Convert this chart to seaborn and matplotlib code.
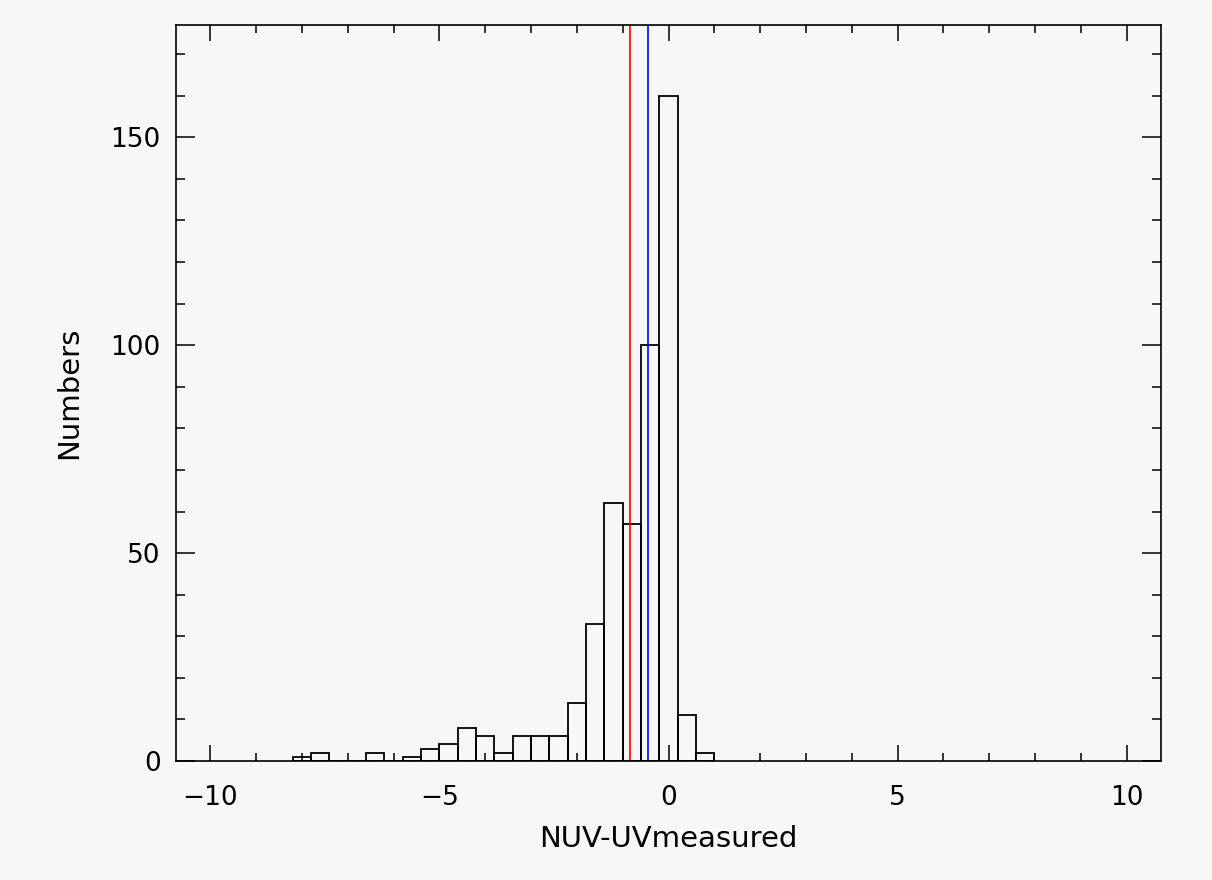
import numpy as np
import pandas as pd
import seaborn as sns
import matplotlib
matplotlib.use("Agg")
import matplotlib.pyplot as plt
from matplotlib.ticker import MultipleLocator

# Histogram data (bin edges every 0.4 from -8.2 to 1.0)
bin_edges = [-8.2, -7.8, -7.4, -7.0, -6.6, -6.2, -5.8, -5.4, -5.0, -4.6, -4.2,
             -3.8, -3.4, -3.0, -2.6, -2.2, -1.8, -1.4, -1.0, -0.6, -0.2, 0.2, 0.6, 1.0]
counts = [1, 2, 0, 0, 2, 0, 1, 3, 4, 8, 6,
          2, 6, 6, 6, 14, 33, 62, 57, 100, 160, 11, 2]
red_line = -0.84
blue_line = -0.44

centers = [(bin_edges[i] + bin_edges[i + 1]) / 2 for i in range(len(counts))]
df = pd.DataFrame({"x": centers, "n": counts})

sns.set_style("ticks")
plt.rcParams["font.family"] = ["DejaVu Sans"]

bg = "#f7f7f7"
fig = plt.figure(figsize=(12.12, 8.80), dpi=100, facecolor=bg)
ax = fig.add_axes([176 / 1212, 1 - 761 / 880, (1161 - 176) / 1212, (761 - 25) / 880])
ax.set_facecolor(bg)

sns.histplot(data=df, x="x", weights="n", bins=bin_edges, fill=False,
             element="bars", color="black", linewidth=1.3, ax=ax)

ax.axvline(red_line, color="#ff0000", linewidth=1.2)
ax.axvline(blue_line, color="#0000ff", linewidth=1.2)

ax.set_xlim(-10.75, 10.75)
ax.set_ylim(0, 177)
ax.xaxis.set_major_locator(MultipleLocator(5))
ax.xaxis.set_minor_locator(MultipleLocator(1))
ax.yaxis.set_major_locator(MultipleLocator(50))
ax.yaxis.set_minor_locator(MultipleLocator(10))

ax.tick_params(which="both", direction="in", top=True, right=True,
               colors="black", labelcolor="black", width=1.1, labelsize=19)
ax.tick_params(axis="x", which="major", length=11.5, pad=17)
ax.tick_params(axis="x", which="minor", length=5.8)
ax.tick_params(axis="y", which="major", length=14, pad=11)
ax.tick_params(axis="y", which="minor", length=6.5)

for s in ax.spines.values():
    s.set_visible(True)
    s.set_linewidth(1.2)
    s.set_color("black")

ax.set_xlabel("NUV-UVmeasured", fontsize=21, color="black", labelpad=10)
ax.set_ylabel("Numbers", fontsize=21, color="black", labelpad=20)

fig.savefig("out.png", dpi=100, facecolor=bg)
